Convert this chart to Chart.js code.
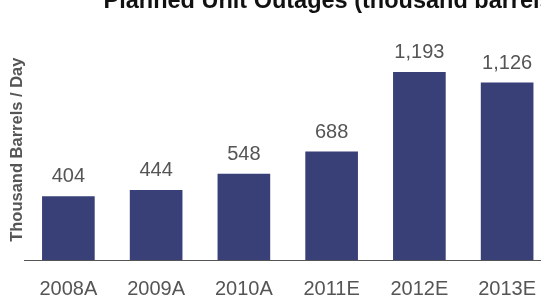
<!DOCTYPE html>
<html>
<head>
<meta charset="utf-8">
<script src="https://cdn.jsdelivr.net/npm/chart.js@4.4.0/dist/chart.umd.min.js"></script>
<style>
    html, body { margin: 0; padding: 0; background: #fff; overflow: hidden; width: 541px; height: 298px; }
    #wrap { position: absolute; left: 0; top: -13px; }
</style>
</head>
<body>
<div id="wrap"><canvas id="chart1" width="560" height="331"></canvas></div>
<script>
// 데이터
const years = ["2008A", "2009A", "2010A", "2011E", "2012E", "2013E"];
const outages = [404, 444, 548, 688, 1193, 1126];
const valueLabels = ["404", "444", "548", "688", "1,193", "1,126"];
const titleText = "Planned Unit Outages (thousand barrels per day)";

const barColor = "#393f77";
const textGray = "#555";
const fontFamily = "'Liberation Sans', Arial, sans-serif";

// bar top value labels
const valueLabelPlugin = {
    id: "valueLabels",
    afterDatasetsDraw(chart) {
        const c = chart.ctx;
        const meta = chart.getDatasetMeta(0);
        c.save();
        c.font = "20px " + fontFamily;
        c.fillStyle = textGray;
        c.textAlign = "center";
        c.textBaseline = "alphabetic";
        meta.data.forEach((bar, i) => {
            c.fillText(valueLabels[i], bar.x, bar.y - 14);
        });
        c.restore();
    }
};

// title is cut off on the right in the source, so it starts left-aligned
const titlePlugin = {
    id: "cutTitle",
    afterDraw(chart) {
        const c = chart.ctx;
        c.save();
        c.font = "bold 23.5px " + fontFamily;
        c.fillStyle = "#111";
        c.textAlign = "left";
        c.textBaseline = "alphabetic";
        c.fillText(titleText, chart.chartArea.left + 79, 21);
        c.restore();
    }
};

const chart = new Chart(document.getElementById("chart1"), {
    type: "bar",
    data: {
        labels: years,
        datasets: [
            {
                label: "Thousand Barrels / Day",
                data: outages,
                backgroundColor: barColor,
                barPercentage: 0.6,
                categoryPercentage: 1
            }
        ]
    },
    options: {
        responsive: false,
        animation: false,
        layout: {
            padding: { left: 0, right: 9, top: 52.4, bottom: 0 }
        },
        plugins: {
            legend: { display: false },
            tooltip: { enabled: false },
            title: { display: false }
        },
        scales: {
            x: {
                grid: { display: false, drawTicks: false },
                border: { display: true, color: "#555", width: 1 },
                ticks: {
                    color: textGray,
                    padding: 17,
                    font: { family: fontFamily, size: 20 }
                }
            },
            y: {
                min: 0,
                max: 1400,
                grid: { display: false, drawTicks: false },
                border: { display: false },
                ticks: { display: false },
                title: {
                    display: true,
                    text: "Thousand Barrels / Day",
                    color: textGray,
                    padding: { top: 9, bottom: -1 },
                    font: { family: fontFamily, size: 16.5, weight: "bold", lineHeight: 1 }
                }
            }
        }
    },
    plugins: [valueLabelPlugin, titlePlugin]
});
</script>
</body>
</html>
